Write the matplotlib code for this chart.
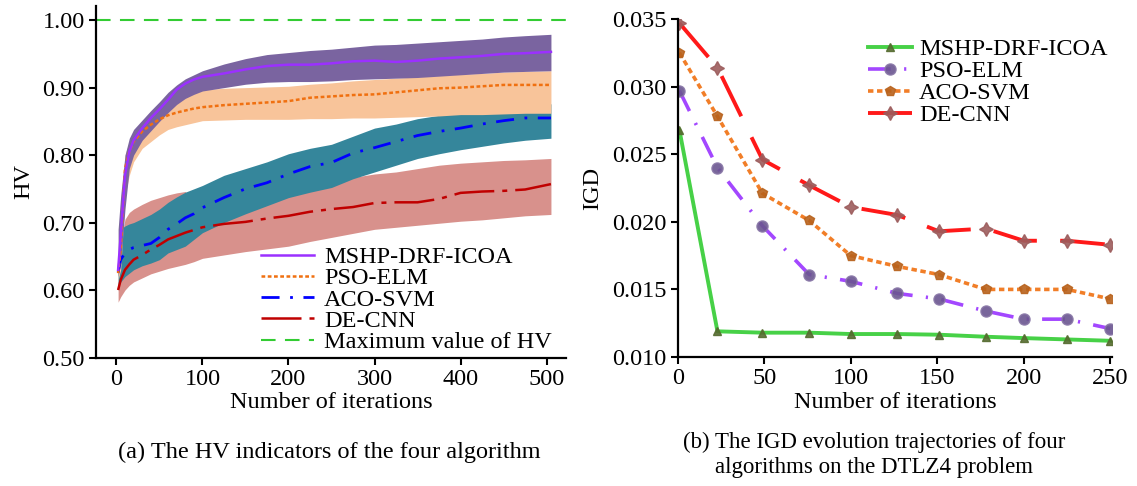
import numpy as np
import matplotlib
matplotlib.use("Agg")
import matplotlib.pyplot as plt
from matplotlib.ticker import FormatStrFormatter

plt.rcParams['font.family'] = ['Liberation Serif', 'DejaVu Serif']
plt.rcParams['font.size'] = 17.5

# ---- (a) HV indicators ----
hv_iter = [2, 5, 10, 15, 20, 30, 40, 50, 60, 70, 80, 90, 100, 125, 150, 175, 200,
           225, 250, 275, 300, 325, 350, 375, 400, 425, 450, 475, 505]

mshp_mean = [0.63, 0.68, 0.77, 0.805, 0.822, 0.840, 0.855, 0.868, 0.882, 0.897, 0.906, 0.912, 0.916,
             0.921, 0.927, 0.932, 0.934, 0.934, 0.936, 0.939, 0.940, 0.938, 0.940, 0.943, 0.945,
             0.947, 0.950, 0.951, 0.953]
mshp_up = [0.69, 0.74, 0.80, 0.825, 0.838, 0.852, 0.866, 0.879, 0.893, 0.904, 0.913, 0.919, 0.925,
           0.935, 0.943, 0.949, 0.952, 0.955, 0.957, 0.960, 0.963, 0.964, 0.966, 0.968, 0.970,
           0.972, 0.975, 0.977, 0.979]
mshp_lo = [0.62, 0.64, 0.72, 0.78, 0.800, 0.822, 0.836, 0.850, 0.863, 0.875, 0.884, 0.890, 0.895,
           0.900, 0.905, 0.908, 0.909, 0.909, 0.910, 0.912, 0.913, 0.914, 0.915, 0.917, 0.919,
           0.921, 0.923, 0.924, 0.925]

pso_mean = [0.625, 0.66, 0.78, 0.805, 0.820, 0.835, 0.845, 0.853, 0.859, 0.863, 0.866, 0.869, 0.871,
            0.874, 0.876, 0.878, 0.880, 0.885, 0.887, 0.889, 0.890, 0.893, 0.896, 0.899, 0.900,
            0.902, 0.904, 0.904, 0.904]
pso_up = [0.64, 0.68, 0.80, 0.82, 0.832, 0.850, 0.865, 0.876, 0.885, 0.890, 0.893, 0.895, 0.897,
          0.899, 0.900, 0.901, 0.902, 0.905, 0.907, 0.910, 0.912, 0.914, 0.916, 0.918, 0.920,
          0.921, 0.923, 0.924, 0.925]
pso_lo = [0.615, 0.63, 0.74, 0.77, 0.790, 0.810, 0.820, 0.830, 0.838, 0.842, 0.845, 0.848, 0.851,
          0.852, 0.853, 0.853, 0.853, 0.854, 0.854, 0.855, 0.855, 0.856, 0.857, 0.858, 0.860,
          0.860, 0.861, 0.862, 0.862]

aco_mean = [0.626, 0.645, 0.655, 0.660, 0.663, 0.666, 0.669, 0.678, 0.690, 0.698, 0.707, 0.713, 0.722,
            0.737, 0.750, 0.759, 0.772, 0.783, 0.789, 0.803, 0.811, 0.820, 0.829, 0.835, 0.840,
            0.846, 0.851, 0.855, 0.855]
aco_up = [0.64, 0.69, 0.695, 0.698, 0.700, 0.706, 0.712, 0.720, 0.730, 0.738, 0.745, 0.750, 0.755,
          0.770, 0.780, 0.790, 0.802, 0.810, 0.816, 0.828, 0.840, 0.846, 0.854, 0.859, 0.864,
          0.867, 0.871, 0.874, 0.876]
aco_lo = [0.605, 0.612, 0.620, 0.625, 0.630, 0.636, 0.640, 0.645, 0.655, 0.660, 0.665, 0.675, 0.685,
          0.700, 0.713, 0.725, 0.737, 0.745, 0.752, 0.765, 0.775, 0.785, 0.795, 0.802, 0.808,
          0.813, 0.818, 0.822, 0.825]

de_mean = [0.60, 0.615, 0.630, 0.638, 0.645, 0.652, 0.660, 0.667, 0.675, 0.680, 0.685, 0.689, 0.693,
           0.698, 0.701, 0.706, 0.710, 0.716, 0.720, 0.723, 0.729, 0.730, 0.730, 0.735, 0.744,
           0.746, 0.747, 0.749, 0.757]
de_up = [0.61, 0.67, 0.705, 0.715, 0.720, 0.727, 0.733, 0.737, 0.741, 0.744, 0.746, 0.730, 0.732,
         0.736, 0.740, 0.745, 0.750, 0.755, 0.760, 0.767, 0.772, 0.775, 0.780, 0.785, 0.788,
         0.790, 0.792, 0.793, 0.795]
de_lo = [0.582, 0.59, 0.600, 0.607, 0.612, 0.618, 0.624, 0.628, 0.632, 0.635, 0.638, 0.642, 0.647,
         0.652, 0.657, 0.661, 0.665, 0.672, 0.678, 0.684, 0.690, 0.693, 0.696, 0.699, 0.702,
         0.704, 0.707, 0.710, 0.712]

hv_max = 1.0

# ---- (b) IGD trajectories ----
igd_iter = [1, 23, 49, 76, 100, 127, 151, 178, 200, 225, 250]
igd_mshp = [0.0268, 0.0119, 0.0118, 0.0118, 0.0117, 0.0117, 0.01165, 0.0115, 0.0114, 0.0113, 0.0112]
igd_pso = [0.0297, 0.0240, 0.0197, 0.0161, 0.0156, 0.0147, 0.0143, 0.0134, 0.0128, 0.0128, 0.0121]
igd_aco = [0.0325, 0.0278, 0.0221, 0.0201, 0.0175, 0.0167, 0.0161, 0.0150, 0.0150, 0.0150, 0.0143]
igd_de = [0.0347, 0.0314, 0.0246, 0.0227, 0.0211, 0.0205, 0.0193, 0.0195, 0.0186, 0.0186, 0.0183]

fig = plt.figure(figsize=(11.37, 4.86), dpi=100)
ax1 = fig.add_axes([0.0842, 0.2644, 0.4136, 0.7233])
ax2 = fig.add_axes([0.596, 0.2654, 0.382, 0.6955])

# left panel: bands drawn from worst to best so the better ones sit on top
ax1.fill_between(hv_iter, de_lo, de_up, color='#d8918c', lw=0)
l_de, = ax1.plot(hv_iter, de_mean, color='#c00000', lw=1.8, dashes=(16, 3.2, 2, 3.2), label='DE-CNN')
ax1.fill_between(hv_iter, aco_lo, aco_up, color='#35869b', lw=0)
l_aco, = ax1.plot(hv_iter, aco_mean, color='#0000ff', lw=2, dashes=(6.5, 3.8, 1, 3.8), label='ACO-SVM')
ax1.fill_between(hv_iter, pso_lo, pso_up, color='#f8c49a', lw=0)
l_pso, = ax1.plot(hv_iter, pso_mean, color='#f07010', lw=1.8, dashes=(1.5, 1), label='PSO-ELM')
ax1.fill_between(hv_iter, mshp_lo, mshp_up, color='#7a64a0', lw=0)
l_mshp, = ax1.plot(hv_iter, mshp_mean, color='#9b30ff', lw=1.8, label='MSHP-DRF-ICOA')
l_max = ax1.axhline(hv_max, color='#33cc33', lw=1.5, dashes=(7, 4.5), label='Maximum value of HV')

ax1.set_xlim(-24, 522.5)
ax1.set_ylim(0.5, 1.021)
ax1.set_xticks([0, 100, 200, 300, 400, 500])
ax1.set_yticks([0.5, 0.6, 0.7, 0.8, 0.9, 1.0])
ax1.yaxis.set_major_formatter(FormatStrFormatter('%.2f'))
ax1.set_xlabel('Number of iterations', labelpad=2)
ax1.set_ylabel('HV', labelpad=6)
ax1.legend(handles=[l_mshp, l_pso, l_aco, l_de, l_max], loc='upper left',
           bbox_to_anchor=(261 / 1137, 1 - 246 / 486), bbox_transform=fig.transFigure,
           frameon=False, borderpad=0, borderaxespad=0, handlelength=2.2,
           handletextpad=0.4, labelspacing=-0.03)

# right panel
ax2.plot(igd_iter, igd_mshp, color='#33cc33', lw=2.8, marker='^', ms=6,
         mfc='#556b2f', mec='#556b2f', alpha=0.9, label='MSHP-DRF-ICOA')
ax2.plot(igd_iter, igd_pso, color='#9933ff', lw=2.6, dashes=(6.3, 3.7, 0.6, 3.7), marker='o', ms=8,
         mfc='#6b5590', mec='#8a78a8', alpha=0.9, label='PSO-ELM')
ax2.plot(igd_iter, igd_aco, color='#f07010', lw=2.6, dashes=(1.5, 1), marker='p', ms=7,
         mfc='#b8621c', mec='#b8621c', alpha=0.9, label='ACO-SVM')
ax2.plot(igd_iter, igd_de, color='#ff0000', lw=2.8, dashes=(11.5, 6), marker=(4, 1, 0), ms=10,
         mfc='#9c5c5c', mec='#9c5c5c', alpha=0.9, label='DE-CNN')

ax2.set_xlim(0, 251)
ax2.set_ylim(0.010, 0.035)
ax2.set_xticks([0, 50, 100, 150, 200, 250])
ax2.set_yticks([0.010, 0.015, 0.020, 0.025, 0.030, 0.035])
ax2.yaxis.set_major_formatter(FormatStrFormatter('%.3f'))
ax2.set_xlabel('Number of iterations', labelpad=2)
ax2.set_ylabel('IGD', labelpad=6)
ax2.legend(loc='upper left', bbox_to_anchor=(868 / 1137, 1 - 38 / 486), bbox_transform=fig.transFigure,
           frameon=False, borderpad=0, borderaxespad=0, handlelength=1.8,
           handletextpad=0.3, labelspacing=0.0)

for ax in (ax1, ax2):
    ax.spines['top'].set_visible(False)
    ax.spines['right'].set_visible(False)
    ax.spines['left'].set_linewidth(1.6)
    ax.spines['bottom'].set_linewidth(1.6)
    ax.tick_params(direction='out', length=5, width=1.5, pad=3)

fig.text(329 / 1137, 1 - 452 / 486, '(a) The HV indicators of the four algorithm',
         ha='center', va='center')
fig.text(874 / 1137, 1 - 442 / 486, '(b) The IGD evolution trajectories of four',
         ha='center', va='center', fontsize=16.5)
fig.text(874 / 1137, 1 - 467 / 486, 'algorithms on the DTLZ4 problem',
         ha='center', va='center', fontsize=16.5)

fig.savefig('out.png', dpi=100)
